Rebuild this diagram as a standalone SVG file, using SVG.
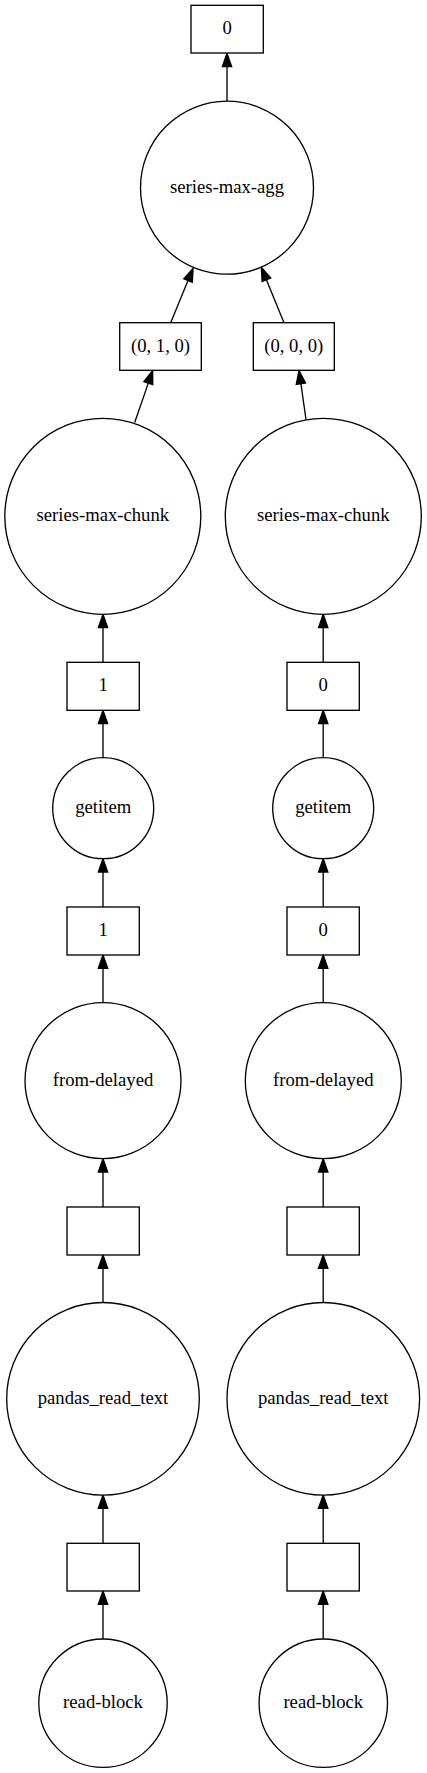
<svg xmlns="http://www.w3.org/2000/svg" width="427" height="1773" viewBox="0 0 427 1773">
<style>
.n{fill:#fff;stroke:#000;stroke-width:1.33}
.t{font-family:"Liberation Serif","Times New Roman",serif;font-size:18.67px;text-anchor:middle;fill:#000}
.e{stroke:#000;stroke-width:1.33;fill:none;marker-end:url(#ah)}
</style>
<defs>
<marker id="ah" markerUnits="userSpaceOnUse" markerWidth="14" markerHeight="10" refX="0" refY="5" orient="auto" viewBox="0 0 14 10" overflow="visible">
<path d="M0,0.33 L13.33,5 L0,9.67 Z" fill="#000" stroke="#000" stroke-width="1.33"/>
</marker>
</defs>
<rect width="427" height="1773" fill="#fff"/>
<g id="edges">
<line class="e" x1="227" y1="101" x2="227" y2="66.7"/>
<line class="e" x1="170.7" y1="322.7" x2="188" y2="280.6"/>
<line class="e" x1="284" y1="322.7" x2="266.4" y2="279.8"/>
<line class="e" x1="134.7" y1="422.5" x2="148.3" y2="383.1"/>
<line class="e" x1="306" y1="419.5" x2="300.9" y2="383.7"/>
<line class="e" x1="103" y1="662.3" x2="103" y2="627.7"/>
<line class="e" x1="323.2" y1="662.3" x2="323.2" y2="627.7"/>
<line class="e" x1="103" y1="757.7" x2="103" y2="723.7"/>
<line class="e" x1="323.2" y1="757.7" x2="323.2" y2="723.7"/>
<line class="e" x1="103" y1="907" x2="103" y2="872"/>
<line class="e" x1="323.2" y1="907" x2="323.2" y2="872"/>
<line class="e" x1="103" y1="1002.7" x2="103" y2="968.3"/>
<line class="e" x1="323.2" y1="1002.7" x2="323.2" y2="968.3"/>
<line class="e" x1="103" y1="1207" x2="103" y2="1172"/>
<line class="e" x1="323.2" y1="1207" x2="323.2" y2="1172"/>
<line class="e" x1="103" y1="1302.7" x2="103" y2="1268.3"/>
<line class="e" x1="323.2" y1="1302.7" x2="323.2" y2="1268.3"/>
<line class="e" x1="103" y1="1543.3" x2="103" y2="1508.3"/>
<line class="e" x1="323.2" y1="1543.3" x2="323.2" y2="1508.3"/>
<line class="e" x1="103" y1="1639" x2="103" y2="1604.3"/>
<line class="e" x1="323.2" y1="1639" x2="323.2" y2="1604.3"/>
</g>
<g id="n-top"><rect class="n" x="191" y="5.3" width="72.3" height="47.7"/><text class="t" x="227.2" y="34.2">0</text></g>
<g id="n-agg"><circle class="n" cx="227" cy="187.7" r="86.5"/><text class="t" x="227" y="192.7">series-max-agg</text></g>
<g id="n-t010"><rect class="n" x="119.7" y="322.7" width="81.6" height="47.6"/><text class="t" x="160.5" y="351.5">(0, 1, 0)</text></g>
<g id="n-t000"><rect class="n" x="253.3" y="322.7" width="81" height="47.6"/><text class="t" x="293.8" y="351.5">(0, 0, 0)</text></g>
<g id="n-chunk1"><circle class="n" cx="102.8" cy="516.3" r="98"/><text class="t" x="102.8" y="521.3">series-max-chunk</text></g>
<g id="n-chunk0"><circle class="n" cx="323.3" cy="516.3" r="98"/><text class="t" x="323.3" y="521.3">series-max-chunk</text></g>
<g id="n-k1a"><rect class="n" x="67" y="662.3" width="72.3" height="48"/><text class="t" x="103.2" y="691.3">1</text></g>
<g id="n-k0a"><rect class="n" x="287" y="662.3" width="72.3" height="48"/><text class="t" x="323.2" y="691.3">0</text></g>
<g id="n-get1"><circle class="n" cx="103.2" cy="808.2" r="50.5"/><text class="t" x="103.2" y="813.2">getitem</text></g>
<g id="n-get0"><circle class="n" cx="323.2" cy="808.2" r="50.5"/><text class="t" x="323.2" y="813.2">getitem</text></g>
<g id="n-k1b"><rect class="n" x="67" y="907" width="72.3" height="48"/><text class="t" x="103.2" y="936">1</text></g>
<g id="n-k0b"><rect class="n" x="287" y="907" width="72.3" height="48"/><text class="t" x="323.2" y="936">0</text></g>
<g id="n-fd1"><circle class="n" cx="103" cy="1080.7" r="78"/><text class="t" x="103" y="1085.7">from-delayed</text></g>
<g id="n-fd0"><circle class="n" cx="323.3" cy="1080.7" r="78"/><text class="t" x="323.3" y="1085.7">from-delayed</text></g>
<g id="n-e1a"><rect class="n" x="67" y="1207" width="72.3" height="48"/></g>
<g id="n-e0a"><rect class="n" x="287" y="1207" width="72.3" height="48"/></g>
<g id="n-prt1"><circle class="n" cx="103" cy="1398.8" r="96.3"/><text class="t" x="103" y="1403.8">pandas_read_text</text></g>
<g id="n-prt0"><circle class="n" cx="323.3" cy="1398.8" r="96.3"/><text class="t" x="323.3" y="1403.8">pandas_read_text</text></g>
<g id="n-e1b"><rect class="n" x="67" y="1543.3" width="72.3" height="47.7"/></g>
<g id="n-e0b"><rect class="n" x="287" y="1543.3" width="72.3" height="47.7"/></g>
<g id="n-rb1"><circle class="n" cx="103" cy="1703.2" r="64.2"/><text class="t" x="103" y="1708.2">read-block</text></g>
<g id="n-rb0"><circle class="n" cx="323.3" cy="1703.2" r="64.2"/><text class="t" x="323.3" y="1708.2">read-block</text></g>
</svg>
